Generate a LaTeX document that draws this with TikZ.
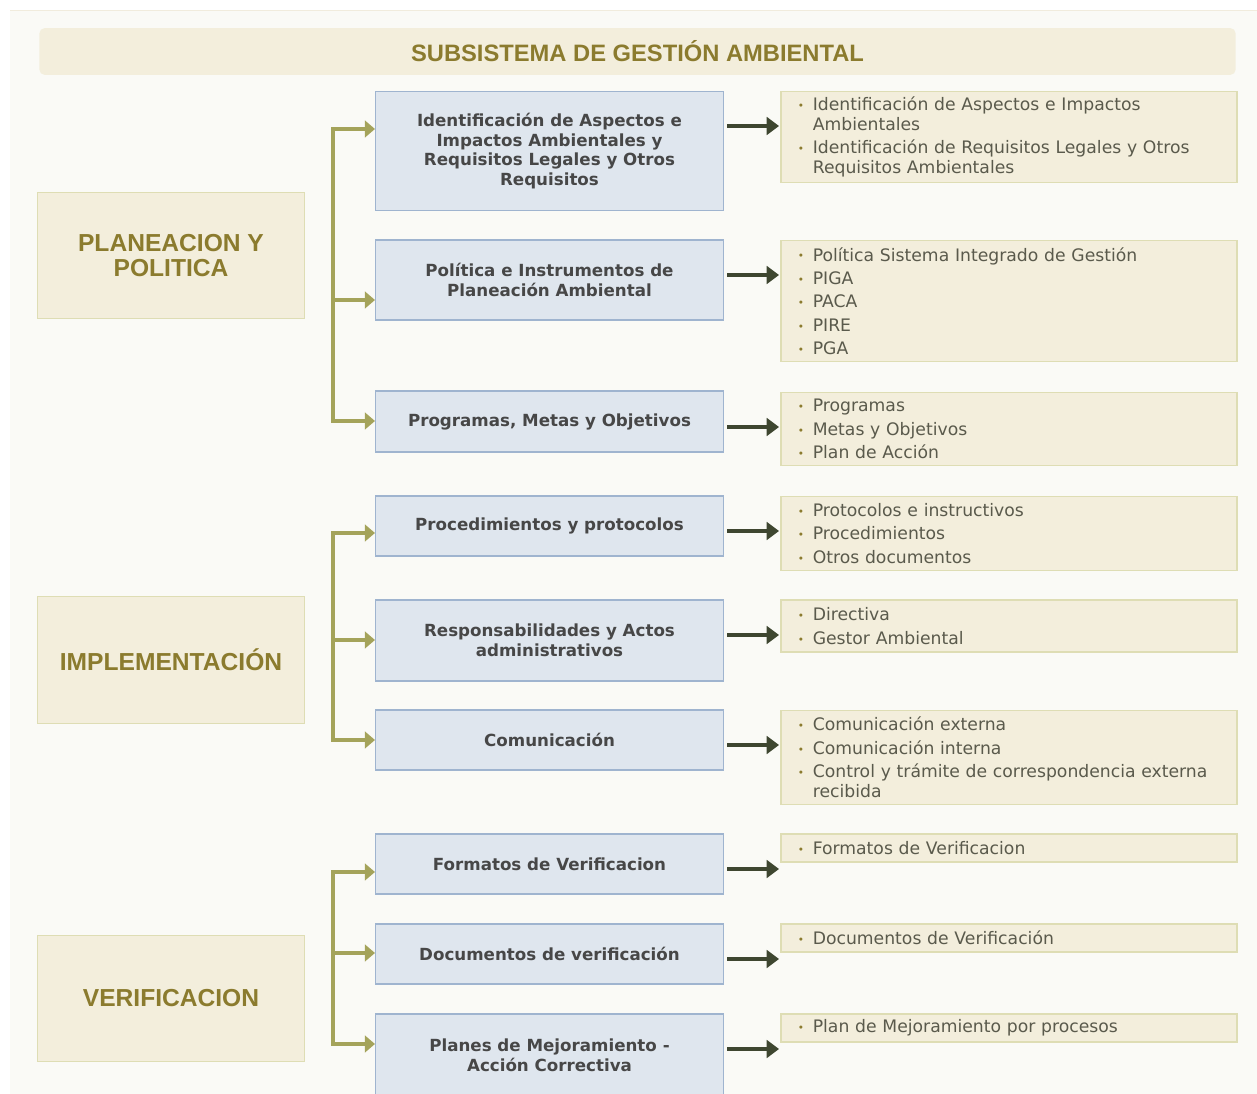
\documentclass[tikz,border=0pt]{standalone}
\usepackage{fontspec}
\setmainfont{DejaVu Sans}
\newfontfamily\arialf{Liberation Sans}
\usetikzlibrary{arrows.meta,calc}
\newdimen\px \px=0.5669pt
\definecolor{panelc}{HTML}{FAFAF6}
\definecolor{topline}{HTML}{F1ECDD}
\definecolor{beige}{HTML}{F3EEDC}
\definecolor{beigeb}{HTML}{DEDDB4}
\definecolor{gold}{HTML}{8B7B2E}
\definecolor{bluef}{HTML}{DFE6EE}
\definecolor{blueb}{HTML}{9FB4CF}
\definecolor{olive}{HTML}{A4A35A}
\definecolor{darkol}{HTML}{3E4630}
\definecolor{btext}{HTML}{474747}
\definecolor{rtext}{HTML}{5A5A4C}
\newcommand\bul{\makebox[8.5pt][l]{\textcolor{gold}{\fontsize{6pt}{6pt}\selectfont\raisebox{0.6pt}{•}}}}
\newcommand\ind{\hspace*{8.5pt}}
\begin{document}
\begin{tikzpicture}[x=0.02cm,y=-0.02cm,
  hdr/.style={fill=beige, draw=none, rounded corners=3pt, inner sep=0pt,
    minimum width=1201\px, minimum height=47\px,
    font=\arialf\bfseries\fontsize{13.5pt}{15pt}\selectfont, text=gold},
  lbox/.style={fill=beige, draw=beigeb, line width=0.7pt, inner sep=0pt, align=center,
    minimum width=268\px, minimum height=127\px,
    font=\arialf\bfseries\fontsize{14pt}{14.4pt}\selectfont, text=gold},
  bbox/.style={fill=bluef, draw=blueb, line width=0.8pt, inner sep=0pt, align=center,
    minimum width=349\px,
    font=\bfseries\fontsize{9.5pt}{11.3pt}\selectfont, text=btext},
  rbox/.style={fill=beige, draw=beigeb, line width=0.7pt, inner sep=0pt, align=left,
    minimum width=458\px, text width=424\px, font=\fontsize{9.8pt}{11.3pt}\selectfont, text=rtext},
  oline/.style={draw=olive, line width=2pt, line join=miter},
  otip/.style={-{Triangle[length=5.8pt,width=9.5pt]}},
  odbl/.style={{Triangle[length=5.8pt,width=9.5pt]}-{Triangle[length=5.8pt,width=9.5pt]}},
  darr/.style={draw=darkol, line width=1.8pt, -{Triangle[length=7pt,width=10pt]}}
]
\useasboundingbox (0,0) rectangle (1257,1094);
\fill[white] (0,0) rectangle (1257,1094);
\fill[panelc] (10,10) rectangle (1257,1094);
\draw[topline, line width=1pt] (10,10.5) -- (1257,10.5);

% header
\node[hdr] (h) at (637.5,51.5) {SUBSISTEMA DE GESTIÓN AMBIENTAL};

% left boxes
\node[lbox] (L1) at (171,255.5) {PLANEACION Y\\POLITICA};
\node[lbox] (L2) at (171,660) {IMPLEMENTACIÓN};
\node[lbox] (L3) at (171,998.5) {VERIFICACION};

% blue boxes
\node[bbox, minimum height=120\px] (b1) at (549.5,151) {Identificación de Aspectos e\\Impactos Ambientales y\\Requisitos Legales y Otros\\Requisitos};
\node[bbox, minimum height=80\px] (b2) at (549.5,280) {Política e Instrumentos de\\Planeación Ambiental};
\node[bbox, minimum height=61\px] (b3) at (549.5,421.5) {Programas, Metas y Objetivos};
\node[bbox, minimum height=60\px] (b4) at (549.5,526) {Procedimientos y protocolos};
\node[bbox, minimum height=81\px] (b5) at (549.5,640.5) {Responsabilidades y Actos\\administrativos};
\node[bbox, minimum height=60\px] (b6) at (549.5,740) {Comunicación};
\node[bbox, minimum height=60\px] (b7) at (549.5,864) {Formatos de Verificacion};
\node[bbox, minimum height=60\px] (b8) at (549.5,954) {Documentos de verificación};
\node[bbox, minimum height=82\px] (b9) at (549.5,1055) {Planes de Mejoramiento -\\Acción Correctiva};

% right boxes
\node[rbox, minimum height=92\px] (r1) at (1009,137) {\bul Identificación de Aspectos e Impactos\\\ind Ambientales\\[2pt]\bul Identificación de Requisitos Legales y Otros\\\ind Requisitos Ambientales};
\node[rbox, minimum height=122\px] (r2) at (1009,301) {\bul Política Sistema Integrado de Gestión\\[2pt]\bul PIGA\\[2pt]\bul PACA\\[2pt]\bul PIRE\\[2pt]\bul PGA};
\node[rbox, minimum height=74\px] (r3) at (1009,429) {\bul Programas\\[2pt]\bul Metas y Objetivos\\[2pt]\bul Plan de Acción};
\node[rbox, minimum height=75\px] (r4) at (1009,533.5) {\bul Protocolos e instructivos\\[2pt]\bul Procedimientos\\[2pt]\bul Otros documentos};
\node[rbox, minimum height=52\px] (r5) at (1009,626) {\bul Directiva\\[2pt]\bul Gestor Ambiental};
\node[rbox, minimum height=95\px] (r6) at (1009,757.5) {\bul Comunicación externa\\[2pt]\bul Comunicación interna\\[2pt]\bul Control y trámite de correspondencia externa\\\ind recibida};
\node[rbox, minimum height=28\px] (r7) at (1009,848) {\bul Formatos de Verificacion};
\node[rbox, minimum height=28\px] (r8) at (1009,938) {\bul Documentos de Verificación};
\node[rbox, minimum height=28\px] (r9) at (1009,1028) {\bul Plan de Mejoramiento por procesos};

% olive brackets
\coordinate (k1) at (333,129);
\coordinate (k2) at (333,300);
\coordinate (k3) at (333,421);
\coordinate (k4) at (333,533);
\coordinate (k5) at (333,640);
\coordinate (k6) at (333,740);
\coordinate (k7) at (333,872);
\coordinate (k8) at (333,953);
\coordinate (k9) at (333,1044);
\draw[oline, odbl] (k1 -| b1.west) -- (k1) -- (k3) -- (k3 -| b3.west);
\draw[oline, otip] (k2) -- (k2 -| b2.west);
\draw[oline, odbl] (k4 -| b4.west) -- (k4) -- (k6) -- (k6 -| b6.west);
\draw[oline, otip] (k5) -- (k5 -| b5.west);
\draw[oline, odbl] (k7 -| b7.west) -- (k7) -- (k9) -- (k9 -| b9.west);
\draw[oline, otip] (k8) -- (k8 -| b8.west);

% dark arrows
\draw[darr] ($(b1.east)+(3,-25)$) -- ++(52,0);
\draw[darr] ($(b2.east)+(3,-5)$) -- ++(52,0);
\draw[darr] ($(b3.east)+(3,5.5)$) -- ++(52,0);
\draw[darr] ($(b4.east)+(3,5)$) -- ++(52,0);
\draw[darr] ($(b5.east)+(3,-5.5)$) -- ++(52,0);
\draw[darr] ($(b6.east)+(3,5)$) -- ++(52,0);
\draw[darr] ($(b7.east)+(3,5)$) -- ++(52,0);
\draw[darr] ($(b8.east)+(3,5)$) -- ++(52,0);
\draw[darr] ($(b9.east)+(3,-6)$) -- ++(52,0);
\end{tikzpicture}
\end{document}
